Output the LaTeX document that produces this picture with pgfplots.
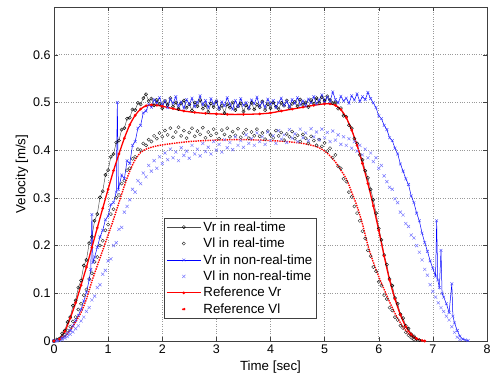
\documentclass[border=0pt]{standalone}
\usepackage{fontspec}
\setmainfont{Liberation Sans}
\usepackage{pgfplots}
\usepackage{pgfplotstable}
\pgfplotsset{compat=1.18}

% Reference Vr
\pgfplotstableread{
t v
0.0 0.000
0.1 0.004
0.2 0.020
0.3 0.048
0.4 0.080
0.5 0.117
0.6 0.155
0.7 0.196
0.8 0.237
0.9 0.278
1.0 0.318
1.1 0.357
1.2 0.392
1.3 0.425
1.4 0.453
1.5 0.473
1.6 0.486
1.7 0.493
1.8 0.495
1.9 0.494
2.0 0.492
2.2 0.487
2.4 0.482
2.6 0.479
2.8 0.477
3.0 0.476
3.2 0.475
3.5 0.475
3.8 0.476
4.0 0.478
4.2 0.482
4.4 0.486
4.6 0.490
4.8 0.494
5.0 0.497
5.1 0.497
5.2 0.494
5.3 0.485
5.4 0.468
5.5 0.442
5.6 0.410
5.7 0.372
5.8 0.330
5.9 0.283
6.0 0.232
6.1 0.178
6.2 0.128
6.3 0.088
6.4 0.055
6.5 0.030
6.6 0.014
6.7 0.005
6.8 0.001
6.85 0.000
}\refvr

% Reference Vl
\pgfplotstableread{
t v
0.0 0.000
0.1 0.002
0.2 0.010
0.3 0.022
0.4 0.040
0.5 0.060
0.6 0.088
0.7 0.125
0.8 0.158
0.9 0.190
1.0 0.222
1.1 0.255
1.2 0.290
1.3 0.325
1.4 0.356
1.5 0.380
1.6 0.395
1.7 0.402
1.8 0.406
2.0 0.411
2.5 0.418
3.0 0.421
3.5 0.422
4.0 0.420
4.3 0.418
4.6 0.414
4.8 0.409
4.9 0.405
5.0 0.398
5.1 0.388
5.2 0.375
5.3 0.358
5.4 0.340
5.5 0.312
5.6 0.282
5.7 0.245
5.8 0.200
5.9 0.165
6.0 0.135
6.1 0.108
6.2 0.082
6.3 0.058
6.4 0.038
6.5 0.022
6.6 0.010
6.7 0.002
}\refvl

% Vr in real-time
\pgfplotstableread{
t v
0.00 0.000
0.05 0.003
0.10 0.005
0.15 0.016
0.20 0.022
0.25 0.040
0.30 0.050
0.35 0.074
0.40 0.085
0.45 0.112
0.50 0.127
0.55 0.158
0.60 0.170
0.65 0.205
0.70 0.218
0.75 0.252
0.80 0.266
0.85 0.301
0.90 0.314
0.95 0.348
1.00 0.358
1.05 0.386
1.10 0.392
1.15 0.416
1.20 0.420
1.25 0.443
1.30 0.446
1.35 0.466
1.40 0.468
1.45 0.485
1.50 0.484
1.55 0.499
1.60 0.496
1.65 0.509
1.70 0.517
1.75 0.503
1.80 0.508
1.85 0.494
1.90 0.505
1.95 0.497
2.00 0.488
2.05 0.503
2.10 0.495
2.15 0.509
2.20 0.491
2.25 0.500
2.30 0.486
2.35 0.498
2.40 0.504
2.45 0.489
2.50 0.496
2.55 0.483
2.60 0.500
2.65 0.492
2.70 0.505
2.75 0.487
2.80 0.494
2.85 0.480
2.90 0.498
2.95 0.490
3.00 0.502
3.05 0.486
3.10 0.493
3.15 0.478
3.20 0.496
3.25 0.489
3.30 0.500
3.35 0.484
3.40 0.492
3.45 0.498
3.50 0.481
3.55 0.494
3.60 0.487
3.65 0.499
3.70 0.485
3.75 0.495
3.80 0.490
3.85 0.502
3.90 0.484
3.95 0.496
4.00 0.488
4.05 0.500
4.10 0.491
4.15 0.486
4.20 0.499
4.25 0.493
4.30 0.504
4.35 0.489
4.40 0.497
4.45 0.501
4.50 0.492
4.55 0.506
4.60 0.495
4.65 0.500
4.70 0.490
4.75 0.505
4.80 0.497
4.85 0.509
4.90 0.499
4.95 0.511
5.00 0.503
5.05 0.513
5.10 0.505
5.15 0.499
5.20 0.500
5.25 0.487
5.30 0.488
5.35 0.472
5.40 0.470
5.45 0.452
5.50 0.446
5.55 0.424
5.60 0.414
5.65 0.390
5.70 0.380
5.75 0.357
5.80 0.342
5.85 0.318
5.90 0.296
5.95 0.268
6.00 0.236
6.05 0.212
6.10 0.180
6.15 0.160
6.20 0.130
6.25 0.116
6.30 0.090
6.35 0.078
6.40 0.056
6.45 0.048
6.50 0.032
6.55 0.026
6.60 0.014
6.65 0.010
6.70 0.004
6.75 0.002
}\vrrt

% Vl in real-time
\pgfplotstableread{
t v
0.00 0.000
0.05 0.001
0.10 0.004
0.15 0.009
0.20 0.013
0.25 0.022
0.30 0.030
0.35 0.041
0.40 0.050
0.45 0.066
0.50 0.078
0.55 0.096
0.60 0.108
0.65 0.130
0.70 0.142
0.75 0.166
0.80 0.176
0.85 0.200
0.90 0.210
0.95 0.232
1.00 0.244
1.05 0.266
1.10 0.276
1.15 0.300
1.20 0.306
1.25 0.330
1.30 0.336
1.35 0.358
1.40 0.362
1.45 0.382
1.50 0.386
1.55 0.402
1.60 0.400
1.65 0.414
1.70 0.410
1.75 0.422
1.80 0.418
1.85 0.430
1.90 0.424
1.95 0.436
2.00 0.428
2.05 0.441
2.10 0.432
2.15 0.446
2.20 0.427
2.25 0.438
2.30 0.448
2.35 0.430
2.40 0.441
2.45 0.425
2.50 0.437
2.55 0.446
2.60 0.429
2.65 0.440
2.70 0.433
2.75 0.447
2.80 0.426
2.85 0.438
2.90 0.431
2.95 0.444
3.00 0.435
3.05 0.424
3.10 0.442
3.15 0.433
3.20 0.446
3.25 0.428
3.30 0.439
3.35 0.431
3.40 0.445
3.45 0.427
3.50 0.436
3.55 0.443
3.60 0.425
3.65 0.438
3.70 0.430
3.75 0.444
3.80 0.429
3.85 0.436
3.90 0.423
3.95 0.440
4.00 0.432
4.05 0.426
4.10 0.441
4.15 0.430
4.20 0.437
4.25 0.421
4.30 0.434
4.35 0.428
4.40 0.439
4.45 0.424
4.50 0.431
4.55 0.418
4.60 0.433
4.65 0.425
4.70 0.414
4.75 0.429
4.80 0.420
4.85 0.410
4.90 0.422
4.95 0.408
5.00 0.415
5.05 0.398
5.10 0.404
5.15 0.384
5.20 0.390
5.25 0.366
5.30 0.362
5.35 0.340
5.40 0.334
5.45 0.312
5.50 0.302
5.55 0.282
5.60 0.268
5.65 0.252
5.70 0.230
5.75 0.215
5.80 0.190
5.85 0.178
5.90 0.155
5.95 0.146
6.00 0.124
6.05 0.116
6.10 0.096
6.15 0.088
6.20 0.070
6.25 0.064
6.30 0.050
6.35 0.044
6.40 0.032
6.45 0.027
6.50 0.018
6.55 0.012
6.60 0.007
6.65 0.003
}\vlrt

% Vr in non-real-time
\pgfplotstableread{
t v
0.00 0.000
0.05 0.001
0.10 0.003
0.15 0.006
0.20 0.010
0.25 0.016
0.30 0.022
0.35 0.032
0.40 0.043
0.45 0.054
0.50 0.066
0.55 0.084
0.60 0.102
0.65 0.128
0.68 0.150
0.70 0.265
0.72 0.165
0.75 0.176
0.80 0.196
0.85 0.218
0.90 0.232
0.95 0.254
1.00 0.262
1.05 0.286
1.10 0.290
1.15 0.312
1.17 0.500
1.19 0.318
1.25 0.348
1.30 0.340
1.35 0.378
1.40 0.372
1.45 0.410
1.50 0.418
1.55 0.446
1.60 0.452
1.65 0.478
1.70 0.482
1.75 0.496
1.80 0.490
1.85 0.506
1.90 0.498
1.95 0.510
2.00 0.494
2.05 0.503
2.10 0.489
2.15 0.507
2.20 0.498
2.25 0.512
2.30 0.493
2.35 0.501
2.40 0.488
2.45 0.506
2.50 0.496
2.55 0.509
2.60 0.491
2.65 0.500
2.70 0.514
2.75 0.495
2.80 0.504
2.85 0.489
2.90 0.508
2.95 0.497
3.00 0.503
3.05 0.487
3.10 0.501
3.15 0.493
3.20 0.510
3.25 0.496
3.30 0.486
3.35 0.504
3.40 0.492
3.45 0.508
3.50 0.494
3.55 0.500
3.60 0.488
3.65 0.505
3.70 0.497
3.75 0.511
3.80 0.492
3.85 0.501
3.90 0.490
3.95 0.507
4.00 0.496
4.05 0.504
4.10 0.489
4.15 0.500
4.20 0.509
4.25 0.494
4.30 0.502
4.35 0.491
4.40 0.506
4.45 0.498
4.50 0.510
4.55 0.495
4.60 0.503
4.65 0.493
4.70 0.507
4.75 0.499
4.80 0.512
4.85 0.497
4.90 0.505
4.95 0.516
5.00 0.500
5.05 0.511
5.10 0.502
5.15 0.522
5.20 0.506
5.25 0.499
5.30 0.513
5.35 0.503
5.40 0.509
5.45 0.498
5.50 0.514
5.55 0.505
5.60 0.518
5.65 0.502
5.70 0.512
5.75 0.506
5.80 0.521
5.85 0.508
5.90 0.499
5.95 0.489
6.00 0.472
6.05 0.466
6.10 0.452
6.15 0.443
6.20 0.426
6.25 0.420
6.30 0.404
6.35 0.392
6.40 0.371
6.45 0.356
6.50 0.340
6.55 0.328
6.60 0.304
6.65 0.290
6.70 0.268
6.75 0.252
6.80 0.226
6.85 0.206
6.90 0.188
6.95 0.168
7.00 0.152
7.05 0.136
7.07 0.252
7.09 0.128
7.12 0.112
7.15 0.190
7.17 0.100
7.20 0.092
7.25 0.078
7.30 0.060
7.35 0.120
7.37 0.052
7.40 0.038
7.45 0.022
7.50 0.010
7.55 0.004
7.60 0.002
7.65 0.001
}\vrnrt

% Vl in non-real-time
\pgfplotstableread{
t v
0.00 0.000
0.05 0.000
0.10 0.002
0.15 0.003
0.20 0.006
0.25 0.009
0.30 0.014
0.35 0.019
0.40 0.026
0.45 0.032
0.50 0.042
0.55 0.050
0.60 0.062
0.65 0.070
0.70 0.086
0.75 0.094
0.80 0.112
0.85 0.118
0.90 0.140
0.95 0.148
1.00 0.168
1.05 0.172
1.10 0.200
1.15 0.206
1.20 0.234
1.25 0.238
1.30 0.270
1.35 0.282
1.40 0.296
1.45 0.318
1.50 0.312
1.55 0.336
1.60 0.330
1.65 0.352
1.70 0.344
1.75 0.368
1.80 0.356
1.85 0.378
1.90 0.362
1.95 0.386
2.00 0.372
2.05 0.394
2.10 0.380
2.15 0.402
2.20 0.384
2.25 0.396
2.30 0.378
2.35 0.405
2.40 0.389
2.45 0.398
2.50 0.383
2.55 0.410
2.60 0.392
2.65 0.402
2.70 0.388
2.75 0.414
2.80 0.397
2.85 0.406
2.90 0.392
2.95 0.418
3.00 0.400
3.05 0.412
3.10 0.396
3.15 0.422
3.20 0.405
3.25 0.416
3.30 0.401
3.35 0.428
3.40 0.410
3.45 0.420
3.50 0.406
3.55 0.432
3.60 0.414
3.65 0.424
3.70 0.410
3.75 0.436
3.80 0.418
3.85 0.428
3.90 0.412
3.95 0.438
4.00 0.420
4.05 0.430
4.10 0.414
4.15 0.441
4.20 0.423
4.25 0.432
4.30 0.416
4.35 0.443
4.40 0.425
4.45 0.434
4.50 0.418
4.55 0.444
4.60 0.426
4.65 0.436
4.70 0.420
4.75 0.445
4.80 0.428
4.85 0.438
4.90 0.422
4.95 0.444
5.00 0.426
5.05 0.437
5.10 0.418
5.15 0.440
5.20 0.421
5.25 0.432
5.30 0.412
5.35 0.428
5.40 0.410
5.45 0.424
5.50 0.404
5.55 0.418
5.60 0.398
5.65 0.410
5.70 0.390
5.75 0.402
5.80 0.384
5.85 0.394
5.90 0.376
5.95 0.384
6.00 0.362
6.05 0.368
6.10 0.346
6.15 0.334
6.20 0.322
6.25 0.318
6.30 0.298
6.35 0.290
6.40 0.270
6.45 0.264
6.50 0.246
6.55 0.240
6.60 0.222
6.65 0.216
6.70 0.200
6.75 0.186
6.80 0.170
6.85 0.150
6.90 0.138
6.95 0.118
7.00 0.104
7.05 0.092
7.10 0.080
7.15 0.070
7.20 0.062
7.25 0.052
7.30 0.044
7.35 0.030
7.40 0.018
7.45 0.008
7.50 0.003
}\vlnrt

\begin{document}
\begin{tikzpicture}
\path[use as bounding box] (-54pt,-34pt) rectangle (437pt,341pt);
\begin{axis}[
  scale only axis,
  width=433pt, height=334pt,
  xmin=0, xmax=8, ymin=0, ymax=0.7,
  xtick={0,1,...,8},
  ytick={0,0.1,0.2,0.3,0.4,0.5,0.6},
  /pgf/number format/assume math mode=true,
  yticklabel style={/pgf/number format/fixed, /pgf/number format/precision=1},
  tick label style={font=\fontsize{12.5}{14}\selectfont},
  grid=major,
  major grid style={dotted, black!40, line width=0.5pt},
  tick align=inside,
  major tick length=4pt,
  axis line style={black!75, line width=0.5pt},
  every tick/.style={black!75},
  xlabel={Time [sec]},
  ylabel={Velocity [m/s]},
  every axis x label/.style={at={(axis description cs:0.5,0)}, yshift=-26pt, anchor=center, font=\fontsize{13.3}{15}\selectfont},
  every axis y label/.style={at={(axis description cs:0,0.5)}, xshift=-32pt, rotate=90, anchor=center, font=\fontsize{13.3}{15}\selectfont},
  legend style={at={(axis cs:2.04,0.048)}, anchor=south west, font=\fontsize{13.3}{15}\selectfont,
    draw=black!75, fill=white, inner xsep=1.5pt, inner ysep=1pt, row sep=1.3pt, line width=0.5pt},
  legend cell align=left,
  legend image code/.code={\draw[mark repeat=2, mark phase=2] plot coordinates {(0pt,0pt) (17pt,0pt) (34pt,0pt)};},
]
\addplot[black!70, line width=0.45pt, mark=o, mark size=1.6pt, mark options={black, line width=0.4pt}] table {\vrrt};
\addlegendentry{Vr in real-time}
\addplot[only marks, mark=o, mark size=1.6pt, mark options={black!85, line width=0.4pt}] table {\vlrt};
\addlegendentry{Vl in real-time}
\addplot[blue, line width=0.5pt, mark=x, mark size=2pt, mark options={blue!75, line width=0.4pt}] table {\vrnrt};
\addlegendentry{Vr in non-real-time}
\addplot[only marks, mark=x, mark size=2.2pt, mark options={blue!55, line width=0.45pt}] table {\vlnrt};
\addlegendentry{Vl in non-real-time}
\addplot[red, line width=1.3pt, smooth, mark=*, mark size=0.6pt] table {\refvr};
\addlegendentry{Reference Vr}
\addplot[red, line width=1.4pt, densely dotted, smooth,
  legend image code/.code={\fill[red] (17pt,0pt) circle (1pt);}] table {\refvl};
\addlegendentry{Reference Vl}
\end{axis}
\end{tikzpicture}
\end{document}
